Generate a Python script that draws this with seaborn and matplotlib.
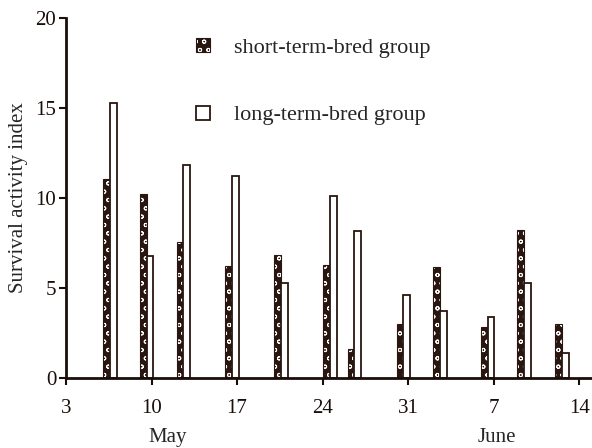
import numpy as np
import pandas as pd
import matplotlib
matplotlib.use("Agg")
import matplotlib.pyplot as plt
import seaborn as sns
from matplotlib.patches import Patch
from matplotlib.colors import to_rgba

# sampling days counted from 1 May (June days continue as 31 + n)
days = [6.6, 9.6, 12.6, 16.6, 20.6, 24.6, 26.6, 30.6, 33.6, 37.5, 40.5, 43.6]
short_term = [11.05, 10.2, 7.55, 6.25, 6.85, 6.3, 1.6, 3.0, 6.15, 2.85, 8.2, 3.0]
long_term = [15.25, 6.8, 11.85, 11.25, 5.3, 10.1, 8.15, 4.6, 3.7, 3.4, 5.3, 1.4]
groups = ["short-term-bred group", "long-term-bred group"]

tick_pos = [3, 10, 17, 24, 31, 38, 45]
tick_labels = ["3", "10", "17", "24", "31", "7", "14"]

DARK = "#2a1610"

df = pd.DataFrame({
    "day": days * 2,
    "value": short_term + long_term,
    "group": [groups[0]] * len(days) + [groups[1]] * len(days),
})

sns.set_style("ticks")
plt.rcParams["font.family"] = ["Liberation Serif", "DejaVu Serif"]
plt.rcParams["hatch.linewidth"] = 0.7


def checker(p):
    # dark fill, dark outline, white dotted hatch
    p.set_facecolor(DARK)
    p.set_edgecolor(DARK)
    p.set_linewidth(0.8)
    p.set_hatch("oo")
    if hasattr(p, "set_hatchcolor"):
        p.set_hatchcolor("white")
    else:
        p._hatch_color = to_rgba("white")


fig = plt.figure(figsize=(5.92, 4.48), dpi=100)
ax = fig.add_axes([0.1115, 0.156, 0.8885, 0.804])

sns.barplot(data=df, x="day", y="value", hue="group", hue_order=groups,
            native_scale=True, width=0.55, errorbar=None, legend=False,
            palette=[DARK, "white"], ax=ax)

for bar in ax.containers[0]:
    checker(bar)
for bar in ax.containers[1]:
    bar.set_facecolor("white")
    bar.set_edgecolor(DARK)
    bar.set_linewidth(1.3)

ax.set_xlim(3, 46.05)
ax.set_ylim(0, 20)
ax.set_xticks(tick_pos)
ax.set_xticklabels(tick_labels)
ax.set_yticks([0, 5, 10, 15, 20])
ax.set_xlabel("")
ax.set_ylabel("Survival activity index", fontsize=15, labelpad=5)
ax.tick_params(direction="out", length=5, width=1.5, labelsize=15, colors="#1a0e0a")
ax.tick_params(axis="x", pad=10)
ax.tick_params(axis="y", pad=2)
for s in ["left", "bottom"]:
    ax.spines[s].set_linewidth(2)
    ax.spines[s].set_color("#1a0e0a")
sns.despine(ax=ax)

ax.text(11.3, -0.138, "May", transform=ax.get_xaxis_transform(), ha="center",
        va="top", fontsize=15)
ax.text(38.3, -0.138, "June", transform=ax.get_xaxis_transform(), ha="center",
        va="top", fontsize=15)

h1 = Patch(label=groups[0])
checker(h1)
h2 = Patch(facecolor="white", edgecolor=DARK, linewidth=1.3)
ax.legend([h1, h2], groups, loc="upper left", bbox_to_anchor=(0.21, 1.0),
          frameon=False, fontsize=16, handlelength=0.6, handleheight=0.6,
          labelspacing=2.15, handletextpad=1.1)

fig.savefig("out.png", dpi=100)
